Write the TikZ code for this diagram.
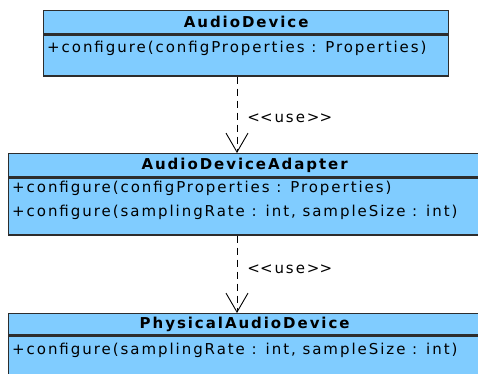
\documentclass[tikz,border=0pt]{standalone}
\usepackage{fontspec}
\setmainfont{DejaVu Sans}[LetterSpace=13]
\usetikzlibrary{arrows.meta}
\definecolor{classfill}{RGB}{128,204,255}
\definecolor{classline}{RGB}{45,45,45}

\begin{document}
\begin{tikzpicture}[x=1pt, y=-1pt,
  classbox/.style={draw=classline, fill=classfill, line width=1.3pt, inner sep=0pt, anchor=north west},
  classname/.style={classbox, font=\bfseries\fontsize{15}{17}\selectfont},
  method/.style={anchor=west, inner sep=0pt, font=\fontsize{15}{17}\selectfont},
  uses/.style={draw=black, line width=0.9pt, dash pattern=on 7pt off 5pt,
    -{Straight Barb[length=19pt, width=22pt, line width=0.9pt]}},
  stereo/.style={anchor=west, inner sep=0pt, font=\fontsize{15}{17}\selectfont}]
\clip (0,0) rectangle (478,373);
% AudioDevice
\node [classname, minimum width=405pt, minimum height=23pt] (devHead) at (43,10) {AudioDevice};
\node [classbox, minimum width=405pt, minimum height=41pt] (devBody) at (devHead.south west) {};
\node [method] (devOp) at (47,48) {+configure(configProperties : Properties)};
% AudioDeviceAdapter
\node [classname, minimum width=472pt, minimum height=23pt] (adaHead) at (8,153) {AudioDeviceAdapter};
\node [classbox, minimum width=472pt, minimum height=57pt] (adaBody) at (adaHead.south west) {};
\node [method] (adaOpA) at (12,188) {+configure(configProperties : Properties)};
\node [method] (adaOpB) at (12,212) {+configure(samplingRate : int, sampleSize : int)};
% PhysicalAudioDevice
\node [classname, minimum width=472pt, minimum height=21pt] (phyHead) at (8,313) {PhysicalAudioDevice};
\node [classbox, minimum width=472pt, minimum height=60pt] (phyBody) at (phyHead.south west) {};
\node [method] (phyOp) at (12,350) {+configure(samplingRate : int, sampleSize : int)};
% dependencies
\coordinate (useLine) at (237,0);
\draw [uses] (useLine |- devBody.south) -- (useLine |- adaHead.north)
  node [stereo, pos=0.54, xshift=10pt] (useA) {<\kern0pt<use>\kern0pt>};
\draw [uses] (useLine |- adaBody.south) -- (useLine |- phyHead.north)
  node [stereo, pos=0.44, xshift=10pt] (useB) {<\kern0pt<use>\kern0pt>};
\end{tikzpicture}
\end{document}
